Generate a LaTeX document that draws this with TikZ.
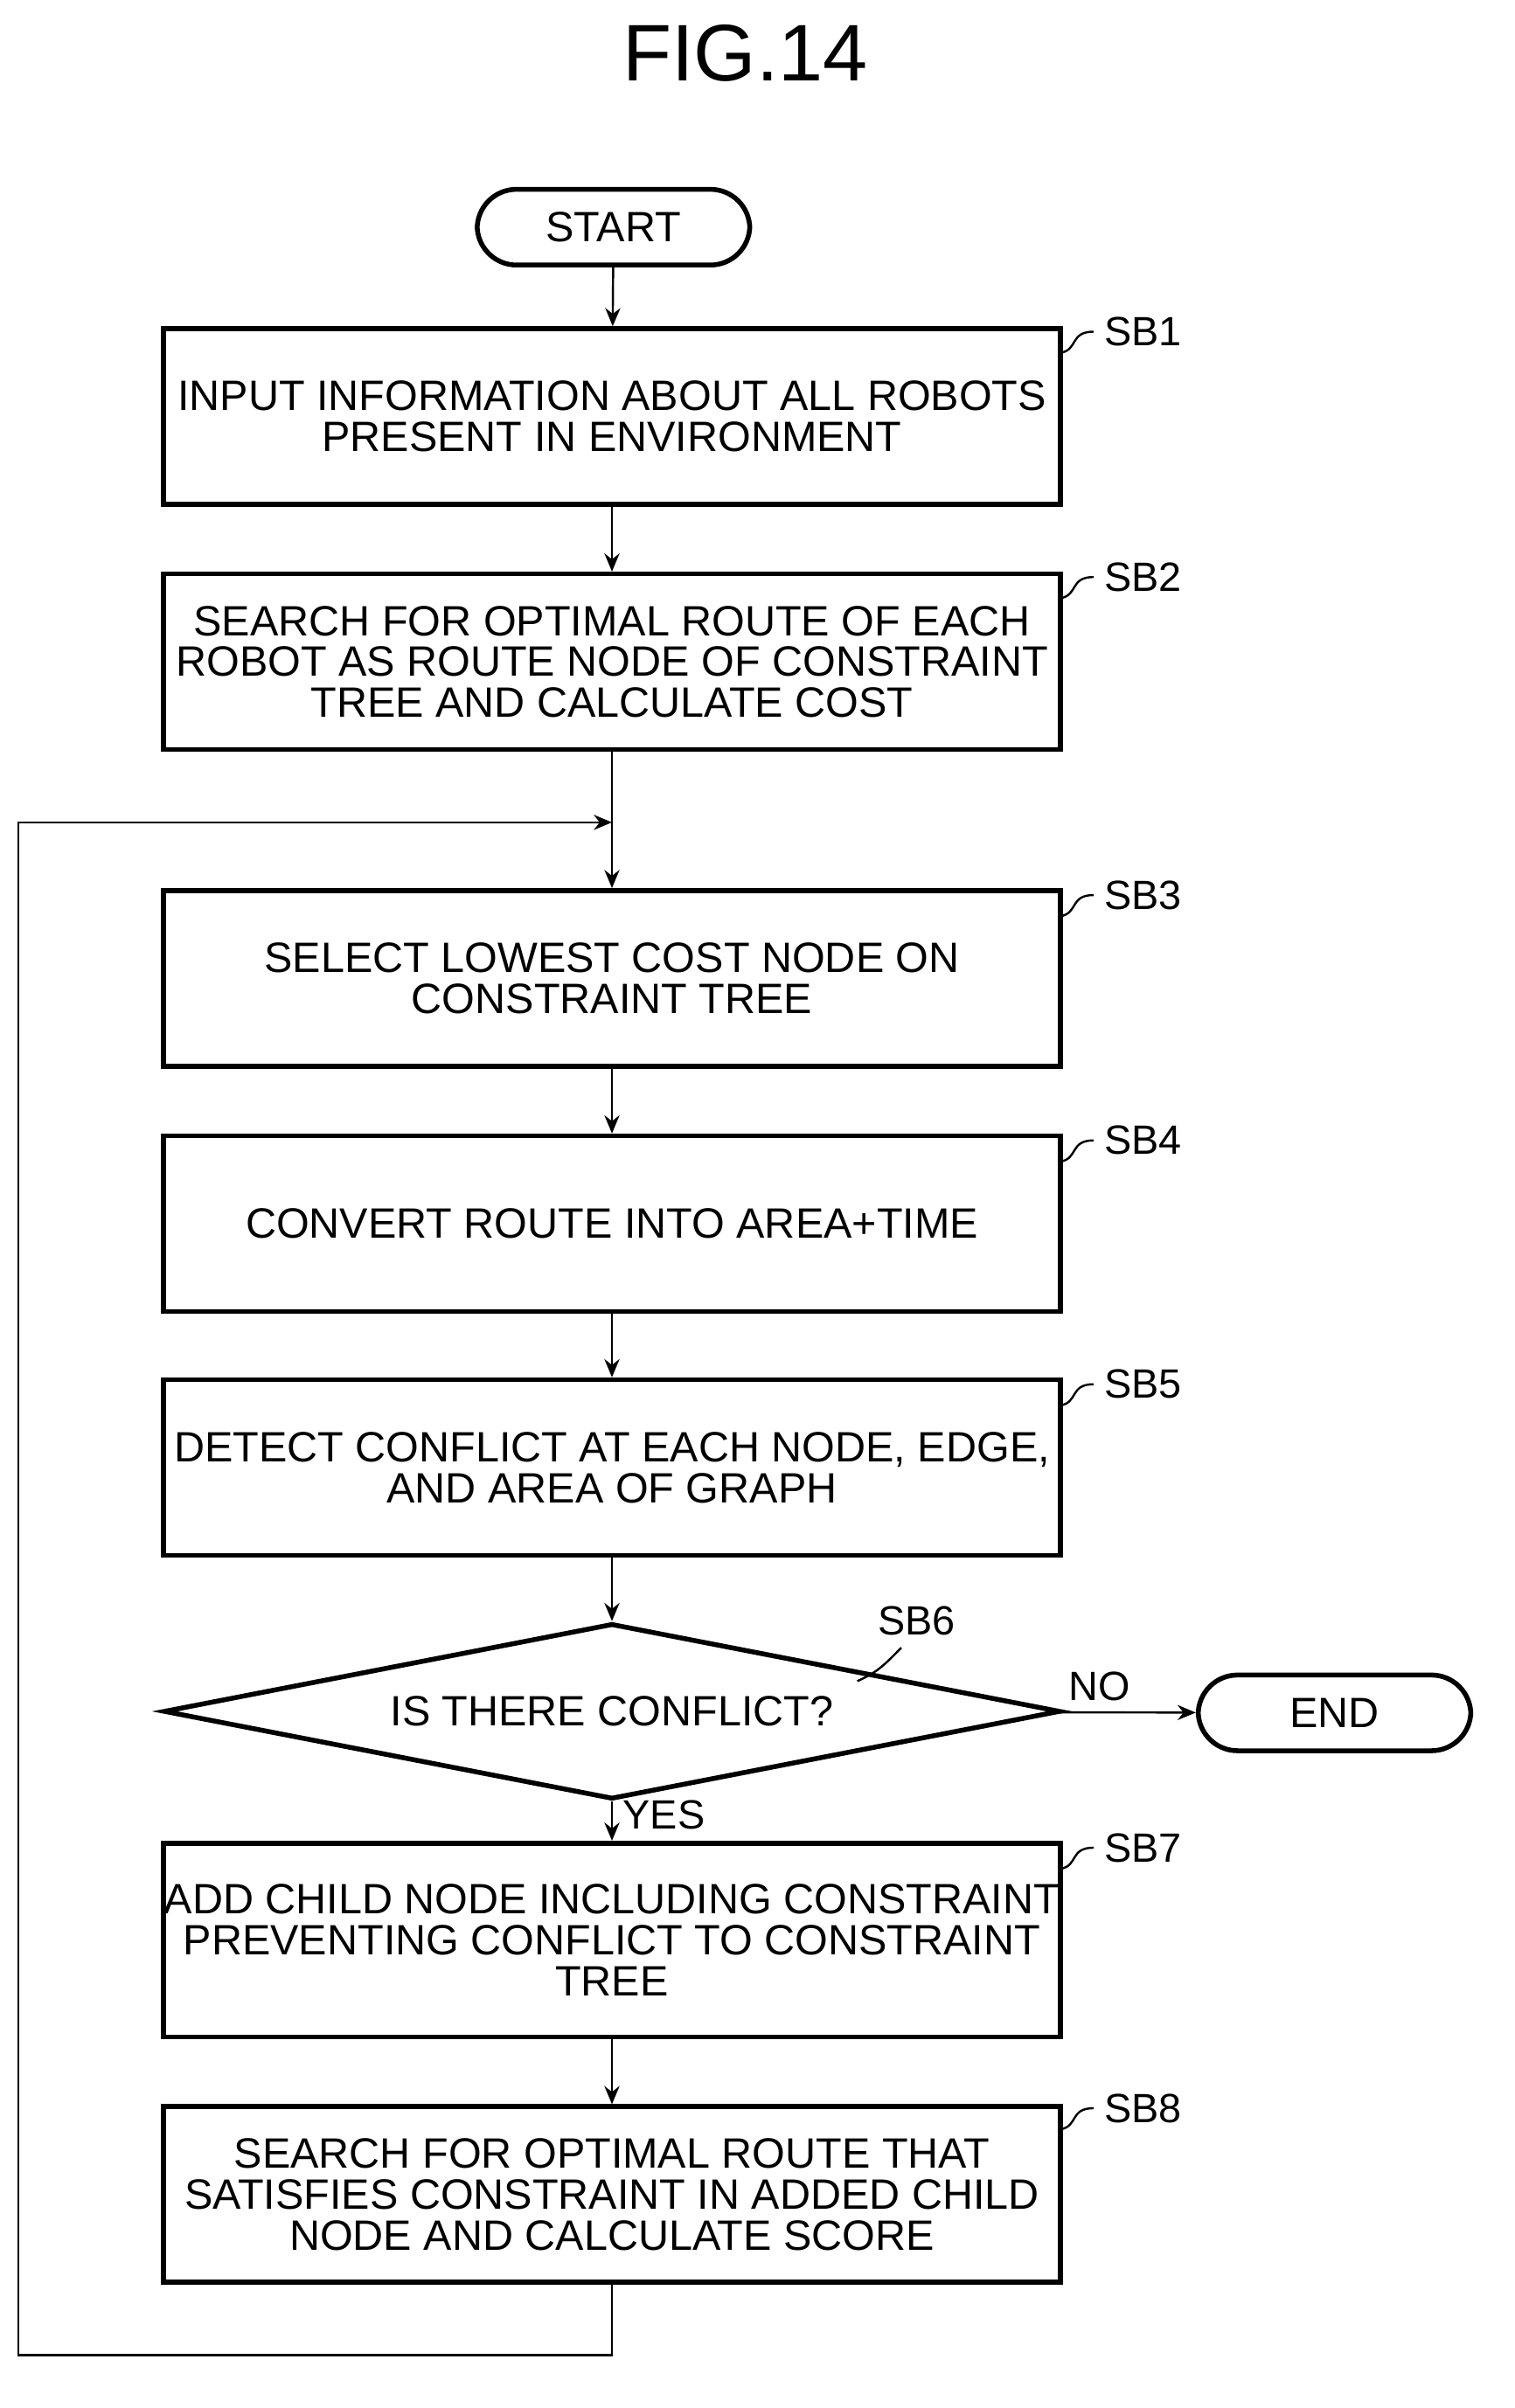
\documentclass[tikz,border=0pt]{standalone}
\usepackage{fontspec}
\setmainfont{Liberation Sans}
\usetikzlibrary{shapes.geometric,arrows.meta}
\begin{document}
\begin{tikzpicture}[x=0.5pt,y=-0.5pt,
 box/.style={draw,line width=1.6pt,minimum width=296pt,minimum height=58pt,align=center,font=\fontsize{14}{13.5}\selectfont,inner sep=0pt},
 term/.style={draw,line width=1.6pt,rounded corners=13pt,minimum width=90pt,minimum height=25pt,font=\fontsize{14}{13.5}\selectfont},
 lab/.style={font=\fontsize{13.5}{14}\selectfont,anchor=west},
 arr/.style={-{Stealth[length=6pt,width=5pt]},line width=0.7pt},
 lead/.style={line width=0.7pt}]
\useasboundingbox (0,0) rectangle (1000,1590);
\node[font=\fontsize{26.5}{28}\selectfont] (title) at (492,35) {FIG.14};
\node[term] (start) at (405,150) {START};
\node[box] (sb1) at (404,275) {INPUT INFORMATION ABOUT ALL ROBOTS\\PRESENT IN ENVIRONMENT};
\node[box] (sb2) at (404,437) {SEARCH FOR OPTIMAL ROUTE OF EACH\\ROBOT AS ROUTE NODE OF CONSTRAINT\\TREE AND CALCULATE COST};
\node[box] (sb3) at (404,646) {SELECT LOWEST COST NODE ON\\CONSTRAINT TREE};
\node[box] (sb4) at (404,808) {CONVERT ROUTE INTO AREA+TIME};
\node[box] (sb5) at (404,969) {DETECT CONFLICT AT EACH NODE, EDGE,\\AND AREA OF GRAPH};
\node[draw,line width=1.6pt,diamond,aspect=5.1,minimum width=296pt,minimum height=58pt,inner sep=0pt,font=\fontsize{14}{13.5}\selectfont] (sb6) at (404,1130) {IS THERE CONFLICT?};
\node[term] (end) at (881,1131) {END};
\node[box,minimum height=64pt] (sb7) at (404,1281) {ADD CHILD NODE INCLUDING CONSTRAINT\\PREVENTING CONFLICT TO CONSTRAINT\\TREE};
\node[box] (sb8) at (404,1449) {SEARCH FOR OPTIMAL ROUTE THAT\\SATISFIES CONSTRAINT IN ADDED CHILD\\NODE AND CALCULATE SCORE};
\coordinate (m) at (404,543);
\coordinate (b1) at (404,1555);
\coordinate (b2) at (12,1555);
\coordinate (b3) at (12,543);
\draw[arr] (start) -- (sb1);
\draw[arr] (sb1) -- (sb2);
\draw[lead] (sb2) -- (m);
\draw[arr] (m) -- (sb3);
\draw[arr] (sb3) -- (sb4);
\draw[arr] (sb4) -- (sb5);
\draw[arr] (sb5) -- (sb6);
\draw[arr] (sb6) -- node[lab,pos=0.35] {YES} (sb7);
\draw[arr] (sb6) -- node[lab,pos=0.3,anchor=south] {NO} (end);
\draw[arr] (sb7) -- (sb8);
\draw[arr] (sb8) -- (b1) -- (b2) -- (b3) -- (m);
\foreach \n/\y in {sb1/219,sb2/381,sb3/591,sb4/753,sb5/914,sb7/1220,sb8/1392}{
 \draw[lead] (700,\y+14) .. controls (712,\y+12) and (706,\y) .. (722,\y);
 \node[lab] at (722,\y) {\MakeUppercase{\n}};}
\draw[lead] (566,1110) .. controls (580,1104) and (585,1098) .. (595,1088);
\node[font=\fontsize{13.5}{14}\selectfont] at (605,1070) {SB6};
\end{tikzpicture}
\end{document}
